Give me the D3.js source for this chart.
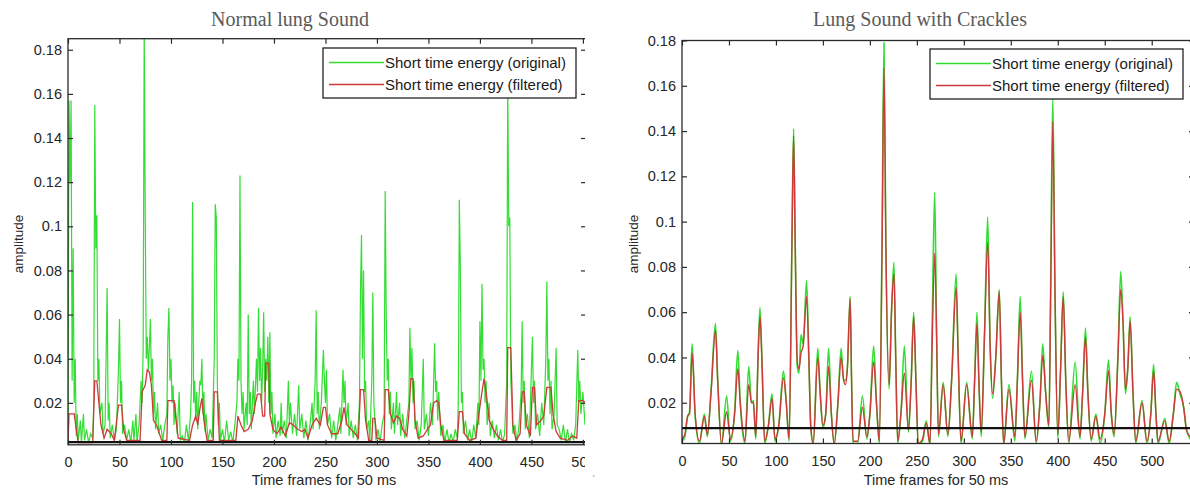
<!DOCTYPE html>
<html><head><meta charset="utf-8">
<script src="https://cdn.jsdelivr.net/npm/d3@7/dist/d3.min.js"></script>
<style>
html,body{margin:0;padding:0;background:#fff;}
svg text{font-family:"Liberation Sans",Arial,Helvetica,sans-serif;}
</style></head>
<body><svg id="c" width="1190" height="488"></svg>
<script>
// ---------------- DATA ----------------
const titles = ["Normal lung Sound", "Lung Sound with Crackles"];
const xLabel = "Time frames for 50 ms";
const yLabel = "amplitude";
const legendLabels = ["Short time energy (original)", "Short time energy (filtered)"];
const xTicks = [0,50,100,150,200,250,300,350,400,450,500,550];
const yTicks = [0.02,0.04,0.06,0.08,0.1,0.12,0.14,0.16,0.18];
const yTickLabels = ["0.02","0.04","0.06","0.08","0.1","0.12","0.14","0.16","0.18"];
const thresholds = [0.0022, 0.0088];

// Normal lung sound: original short time energy [frame, value]
const normalOriginal = [
[0,0.01],[1,0.157],[2,0.12],[3,0.157],[4,0.03],[5,0.09],[6,0.02],[7,0.04],[8,0.005],[9,0.015],[10,0.003],[12,0.012],[13,0.002],[15,0.015],[16,0.003],[18,0.008],[20,0.002],[22,0.006],[24,0.004],[25,0.02],[26,0.155],[27,0.09],[28,0.105],[29,0.03],[30,0.04],[31,0.015],[33,0.02],[34,0.006],[36,0.01],[38,0.072],[39,0.012],[40,0.02],[41,0.004],[43,0.01],[45,0.003],[47,0.008],[49,0.035],[50,0.058],[51,0.02],[52,0.03],[53,0.006],[55,0.01],[57,0.003],[59,0.008],[61,0.002],[63,0.012],[64,0.003],[66,0.015],[67,0.002],[69,0.01],[71,0.03],[72,0.02],[73,0.045],[74,0.19],[75,0.105],[76,0.04],[77,0.05],[78,0.035],[79,0.045],[80,0.058],[81,0.03],[82,0.04],[83,0.015],[84,0.025],[85,0.008],[87,0.02],[88,0.006],[90,0.01],[92,0.003],[94,0.01],[96,0.015],[97,0.05],[98,0.063],[99,0.03],[100,0.04],[101,0.02],[102,0.028],[103,0.01],[104,0.02],[106,0.006],[108,0.025],[109,0.003],[111,0.005],[113,0.002],[115,0.01],[117,0.003],[119,0.015],[120,0.03],[121,0.111],[122,0.02],[123,0.03],[124,0.012],[125,0.025],[126,0.008],[127,0.02],[128,0.03],[129,0.028],[130,0.04],[131,0.015],[132,0.025],[133,0.007],[134,0.015],[136,0.003],[138,0.008],[140,0.004],[142,0.04],[143,0.11],[144,0.104],[145,0.03],[146,0.01],[147,0.02],[148,0.003],[150,0.008],[152,0.002],[154,0.012],[156,0.003],[158,0.007],[160,0.002],[162,0.01],[164,0.02],[165,0.04],[166,0.03],[167,0.123],[168,0.03],[169,0.015],[170,0.025],[171,0.008],[173,0.02],[174,0.01],[175,0.06],[176,0.015],[177,0.025],[178,0.008],[180,0.03],[181,0.015],[183,0.04],[184,0.025],[185,0.063],[186,0.03],[187,0.045],[188,0.02],[189,0.035],[190,0.061],[191,0.025],[192,0.04],[193,0.03],[194,0.05],[195,0.02],[196,0.052],[197,0.015],[198,0.025],[199,0.006],[201,0.015],[202,0.004],[204,0.012],[206,0.005],[207,0.02],[208,0.006],[210,0.012],[212,0.004],[214,0.03],[215,0.01],[216,0.02],[218,0.006],[220,0.015],[222,0.005],[224,0.028],[225,0.008],[227,0.015],[229,0.004],[231,0.012],[233,0.003],[235,0.01],[237,0.02],[238,0.008],[240,0.03],[241,0.062],[242,0.015],[243,0.025],[244,0.008],[246,0.02],[248,0.044],[249,0.03],[250,0.02],[251,0.035],[252,0.01],[254,0.015],[256,0.004],[258,0.012],[260,0.003],[262,0.01],[264,0.018],[265,0.006],[267,0.035],[268,0.02],[269,0.03],[270,0.01],[272,0.02],[273,0.005],[275,0.012],[277,0.004],[279,0.01],[281,0.003],[283,0.02],[284,0.07],[285,0.096],[286,0.04],[287,0.08],[288,0.025],[289,0.03],[290,0.008],[292,0.012],[293,0.002],[295,0.03],[296,0.07],[297,0.02],[298,0.012],[299,0.003],[301,0.008],[303,0.002],[305,0.01],[307,0.015],[308,0.116],[309,0.06],[310,0.03],[311,0.04],[312,0.015],[313,0.025],[314,0.008],[316,0.02],[317,0.006],[319,0.025],[320,0.01],[322,0.02],[323,0.005],[325,0.015],[327,0.004],[329,0.012],[331,0.02],[332,0.054],[333,0.03],[334,0.045],[335,0.02],[336,0.03],[337,0.008],[339,0.012],[341,0.003],[343,0.01],[345,0.04],[346,0.008],[348,0.015],[350,0.005],[352,0.02],[354,0.01],[356,0.047],[357,0.025],[358,0.03],[359,0.012],[360,0.025],[362,0.005],[364,0.01],[366,0.002],[368,0.008],[370,0.002],[372,0.006],[374,0.002],[376,0.008],[378,0.004],[379,0.02],[380,0.112],[381,0.08],[382,0.02],[383,0.025],[384,0.006],[386,0.012],[388,0.003],[390,0.008],[392,0.002],[394,0.01],[396,0.004],[398,0.02],[399,0.01],[400,0.057],[401,0.03],[402,0.074],[403,0.035],[404,0.04],[405,0.02],[406,0.03],[407,0.01],[409,0.02],[410,0.005],[412,0.012],[414,0.004],[416,0.01],[418,0.003],[420,0.008],[422,0.002],[424,0.006],[426,0.03],[427,0.165],[428,0.1],[429,0.104],[430,0.03],[431,0.02],[432,0.006],[434,0.01],[436,0.002],[438,0.01],[440,0.025],[441,0.057],[442,0.02],[443,0.03],[444,0.008],[446,0.015],[448,0.004],[450,0.035],[451,0.05],[452,0.02],[453,0.03],[454,0.008],[456,0.015],[458,0.005],[460,0.02],[462,0.01],[464,0.04],[465,0.075],[466,0.03],[467,0.04],[468,0.015],[469,0.03],[470,0.008],[472,0.015],[474,0.045],[475,0.01],[477,0.008],[479,0.003],[481,0.01],[483,0.002],[485,0.008],[487,0.002],[489,0.006],[491,0.003],[493,0.01],[495,0.044],[496,0.02],[497,0.03],[498,0.015],[500,0.025],[502,0.01],[503,0.02]
];
// Normal lung sound: filtered short time energy
const normalFiltered = [
[0,0.002],[1,0.015],[6,0.015],[8,0.008],[10,0.002],[24,0.002],[26,0.03],[28,0.03],[30,0.02],[32,0.01],[35,0.004],[38,0.008],[42,0.006],[45,0.003],[49,0.019],[52,0.019],[54,0.008],[57,0.003],[70,0.003],[72,0.025],[75,0.028],[77,0.035],[79,0.034],[81,0.028],[83,0.012],[86,0.01],[88,0.007],[91,0.003],[96,0.003],[97,0.021],[103,0.021],[105,0.012],[107,0.004],[118,0.003],[121,0.01],[124,0.014],[126,0.01],[128,0.017],[130,0.022],[132,0.012],[135,0.003],[141,0.003],[142,0.025],[145,0.025],[147,0.003],[163,0.003],[165,0.014],[168,0.01],[171,0.007],[175,0.008],[179,0.012],[182,0.02],[184,0.024],[187,0.024],[189,0.014],[191,0.014],[192,0.038],[195,0.038],[196,0.015],[199,0.008],[203,0.006],[207,0.009],[211,0.005],[215,0.011],[219,0.01],[223,0.008],[227,0.007],[230,0.008],[233,0.004],[237,0.01],[241,0.013],[245,0.01],[248,0.018],[250,0.018],[252,0.01],[256,0.006],[262,0.006],[266,0.012],[268,0.018],[271,0.01],[275,0.008],[279,0.006],[282,0.004],[284,0.026],[287,0.026],[289,0.012],[292,0.003],[295,0.003],[296,0.013],[298,0.013],[300,0.004],[307,0.003],[308,0.026],[311,0.026],[313,0.015],[316,0.011],[319,0.014],[322,0.013],[325,0.008],[329,0.005],[331,0.015],[333,0.031],[335,0.031],[337,0.012],[340,0.004],[345,0.005],[349,0.008],[352,0.01],[355,0.02],[358,0.021],[360,0.02],[362,0.01],[365,0.003],[378,0.003],[380,0.016],[383,0.016],[385,0.006],[390,0.003],[396,0.004],[399,0.015],[402,0.025],[404,0.031],[406,0.025],[409,0.012],[413,0.008],[417,0.005],[422,0.003],[426,0.003],[427,0.045],[430,0.045],[432,0.01],[435,0.003],[439,0.006],[441,0.025],[443,0.025],[445,0.01],[449,0.005],[451,0.027],[453,0.027],[455,0.01],[459,0.012],[462,0.014],[465,0.027],[469,0.027],[471,0.015],[474,0.007],[478,0.004],[485,0.003],[490,0.005],[494,0.004],[496,0.021],[500,0.021],[503,0.02]
];
// Crackles: original short time energy
const cracklesOriginal = [
[0,0.003],[3,0.005],[6,0.014],[8,0.016],[10.7,0.046],[12,0.036],[14,0.014],[18.6,0.002],[23.8,0.015],[27,0.005],[31,0.026],[35.6,0.055],[38,0.03],[42,0.0015],[47.5,0.023],[51.5,0.003],[56,0.016],[59.4,0.043],[62,0.02],[67,0.002],[71,0.036],[74,0.02],[76,0.021],[78.5,0.004],[81,0.042],[83,0.062],[85,0.04],[88,0.002],[92,0.01],[95.8,0.024],[99,0.003],[103,0.01],[108,0.034],[111,0.02],[114,0.003],[117,0.09],[118.8,0.141],[120.5,0.09],[122.7,0.036],[124.5,0.033],[126.7,0.05],[129,0.046],[132.6,0.074],[135,0.04],[137,0.01],[139.7,0.0015],[144.5,0.044],[147,0.025],[150,0.009],[153,0.015],[156,0.044],[159,0.015],[162,0.0015],[166,0.02],[169.4,0.044],[172,0.03],[174,0.03],[176,0.035],[179,0.067],[180.5,0.03],[182,0.002],[187,0.002],[192,0.023],[196.8,0.004],[200,0.015],[204,0.045],[207,0.02],[210,0.002],[213,0.095],[215,0.179],[217,0.09],[220.5,0.026],[223,0.06],[225.6,0.082],[227.5,0.04],[229.6,0.002],[233,0.015],[236.7,0.045],[241,0.007],[244,0.03],[246.6,0.06],[249,0.03],[251.4,0.0015],[256,0.003],[260,0.012],[264,0.0015],[266.5,0.06],[269,0.113],[271,0.05],[273,0.005],[278,0.029],[283,0.005],[287,0.03],[291.8,0.077],[294,0.04],[297,0.002],[303,0.029],[309,0.004],[311.5,0.03],[314,0.06],[316,0.03],[318.5,0.005],[322,0.05],[325.4,0.102],[328,0.045],[330.6,0.022],[334,0.04],[337.7,0.07],[340,0.03],[342.4,0.0015],[348,0.028],[354.3,0.003],[357,0.03],[360,0.067],[362.5,0.03],[365,0.004],[372,0.034],[377,0.002],[381,0.02],[384,0.046],[387,0.025],[390.5,0.009],[392.5,0.075],[394.7,0.155],[397,0.07],[400,0.004],[403,0.035],[405.8,0.069],[408.5,0.03],[411.7,0.002],[418.5,0.038],[423.6,0.004],[426.5,0.025],[429.5,0.053],[432,0.025],[435.5,0.003],[440.6,0.015],[445,0.002],[450,0.015],[454,0.039],[457,0.015],[460,0.005],[464,0.04],[467,0.078],[469.5,0.055],[472,0.024],[474.5,0.035],[477,0.058],[480,0.025],[483,0.002],[489.7,0.021],[494.9,0.002],[499,0.015],[502,0.037],[504.5,0.015],[506.7,0.002],[513.9,0.013],[518.6,0.002],[523,0.015],[526.5,0.029],[530,0.024],[534,0.018],[537,0.008],[541,0.004]
];
// Crackles: filtered short time energy
const cracklesFiltered = [
[0,0.004],[3,0.006],[6,0.014],[8,0.015],[10.7,0.042],[12,0.035],[14,0.015],[18.6,0.003],[23.8,0.014],[27,0.006],[31,0.025],[35.6,0.052],[38,0.03],[42,0.002],[47.5,0.016],[51.5,0.004],[56,0.015],[59.4,0.035],[62,0.02],[67,0.003],[71,0.028],[74,0.02],[76,0.02],[78.5,0.005],[81,0.04],[83,0.058],[85,0.04],[88,0.003],[92,0.01],[95.8,0.022],[99,0.004],[103,0.01],[108,0.031],[111,0.02],[114,0.004],[117,0.09],[118.8,0.138],[120.5,0.09],[122.7,0.038],[124.5,0.035],[126.7,0.042],[129,0.045],[132.6,0.067],[135,0.04],[137,0.01],[139.7,0.002],[144.5,0.04],[147,0.025],[150,0.01],[153,0.015],[156,0.036],[159,0.015],[162,0.002],[166,0.02],[169.4,0.04],[172,0.03],[174,0.028],[176,0.035],[179,0.066],[180.5,0.03],[182,0.003],[187,0.003],[192,0.018],[196.8,0.005],[200,0.015],[204,0.038],[207,0.02],[210,0.003],[213,0.09],[215,0.168],[217,0.09],[220.5,0.028],[223,0.06],[225.6,0.077],[227.5,0.04],[229.6,0.003],[233,0.015],[236.7,0.033],[241,0.008],[244,0.03],[246.6,0.058],[249,0.03],[251.4,0.002],[256,0.004],[260,0.011],[264,0.002],[266.5,0.05],[269,0.086],[271,0.05],[273,0.006],[278,0.028],[283,0.006],[287,0.03],[291.8,0.071],[294,0.04],[297,0.003],[303,0.028],[309,0.005],[311.5,0.03],[314,0.055],[316,0.03],[318.5,0.007],[322,0.05],[325.4,0.091],[328,0.045],[330.6,0.024],[334,0.04],[337.7,0.069],[340,0.03],[342.4,0.002],[348,0.026],[354.3,0.005],[357,0.03],[360,0.06],[362.5,0.03],[365,0.005],[372,0.03],[377,0.003],[381,0.02],[384,0.041],[387,0.025],[390.5,0.01],[392.5,0.07],[394.7,0.144],[397,0.07],[400,0.006],[403,0.035],[405.8,0.067],[408.5,0.03],[411.7,0.003],[418.5,0.028],[423.6,0.005],[426.5,0.025],[429.5,0.049],[432,0.025],[435.5,0.004],[440.6,0.014],[445,0.004],[450,0.015],[454,0.034],[457,0.015],[460,0.006],[464,0.04],[467,0.07],[469.5,0.055],[472,0.026],[474.5,0.035],[477,0.056],[480,0.025],[483,0.003],[489.7,0.02],[494.9,0.003],[499,0.015],[502,0.034],[504.5,0.015],[506.7,0.003],[513.9,0.012],[518.6,0.003],[523,0.015],[526.5,0.026],[530,0.025],[534,0.018],[537,0.008],[541,0.005]
];

// ---------------- LAYOUT ----------------
const GREEN = "#33dd33", RED = "#cc3a3a", AX = "#2a2a2a";
const panels = [
  {title:titles[0], orig:normalOriginal, filt:normalFiltered, thr:thresholds[0],
   x0:68, x1:586, yTop:38.7, yBot:444.8, xDom:[0,503], yDom:[0.001,0.185],
   clipW:585, titleX:290, xLabX:324, yLabX:18, legX:323, legY:48, curve:d3.curveLinear, lw:[1.2,1.3]},
  {title:titles[1], orig:cracklesOriginal, filt:cracklesFiltered, thr:thresholds[1],
   x0:682, x1:1194, yTop:40.5, yBot:443.5, xDom:[0,545], yDom:[0.002,0.18],
   clipW:1190, titleX:920, xLabX:936, yLabX:633, legX:930, legY:49, curve:d3.curveMonotoneX, lw:[1.6,1.4]}
];

const svg = d3.select("#c");
panels.forEach((p,i)=>{
  const g = svg.append("g");
  svg.append("clipPath").attr("id","pc"+i).append("rect")
     .attr("x",0).attr("y",0).attr("width",p.clipW).attr("height",488);
  if(i===0) g.attr("clip-path","url(#pc0)");
  const x = d3.scaleLinear().domain(p.xDom).range([p.x0,p.x1]);
  const y = d3.scaleLinear().domain(p.yDom).range([p.yBot,p.yTop]);

  // title
  svg.append("text").attr("x",p.titleX).attr("y",25.5).attr("text-anchor","middle")
    .style("font-family","'Liberation Serif','Times New Roman',serif").style("font-size","20px")
    .attr("fill","#5a5a5a").text(p.title);

  // plot clip
  svg.append("clipPath").attr("id","pa"+i).append("rect")
     .attr("x",p.x0).attr("y",p.yTop).attr("width",p.x1-p.x0).attr("height",p.yBot-p.yTop);
  const lines = g.append("g").attr("clip-path","url(#pa"+i+")");
  const line = d3.line().x(d=>x(d[0])).y(d=>y(d[1])).curve(p.curve);
  lines.append("path").datum(p.orig).attr("d",line).attr("fill","none")
    .attr("stroke",GREEN).attr("stroke-width",p.lw[0]);
  lines.append("path").datum(p.filt).attr("d",line).attr("fill","none")
    .attr("stroke",RED).attr("stroke-width",p.lw[1]);
  lines.append("line").attr("x1",p.x0).attr("x2",p.x1).attr("y1",y(p.thr)).attr("y2",y(p.thr))
    .attr("stroke","#111").attr("stroke-width",2.2);

  // axes (MATLAB-style, inward ticks)
  const xt = xTicks.filter(t=>t<=p.xDom[1]);
  const fs = "14.5px";
  const ab = g.append("g").attr("transform",`translate(0,${p.yBot})`)
    .call(d3.axisBottom(x).tickValues(xt).tickFormat(d3.format("d")).tickSize(-5).tickPadding(9));
  const at = g.append("g").attr("transform",`translate(0,${p.yTop})`)
    .call(d3.axisTop(x).tickValues(xt).tickFormat("").tickSize(-5));
  const al = g.append("g").attr("transform",`translate(${p.x0},0)`)
    .call(d3.axisLeft(y).tickValues(yTicks).tickFormat((d,k)=>yTickLabels[k]).tickSize(-5).tickPadding(6));
  const ar = g.append("g").attr("transform",`translate(${p.x1},0)`)
    .call(d3.axisRight(y).tickValues(yTicks).tickFormat("").tickSize(-5));
  [ab,at,al,ar].forEach(a=>{
    a.select(".domain").remove();
    a.selectAll(".tick line").attr("stroke",AX).attr("stroke-width",1.2);
    a.selectAll(".tick text").attr("fill","#262626").style("font-size",fs)
      .style("font-family","'Liberation Sans',Arial,sans-serif");
  });
  ab.selectAll(".tick text").attr("dy","0.9em");
  g.append("rect").attr("x",p.x0).attr("y",p.yTop).attr("width",p.x1-p.x0).attr("height",p.yBot-p.yTop)
    .attr("fill","none").attr("stroke",AX).attr("stroke-width",1.3);

  // axis labels
  g.append("text").attr("x",p.xLabX).attr("y",485).attr("text-anchor","middle")
    .attr("fill","#262626").style("font-size","14.5px").text(xLabel);
  g.append("text").attr("transform",`translate(${p.yLabX},244) rotate(-90)`).attr("text-anchor","middle")
    .attr("dy","0.35em").attr("fill","#262626").style("font-size","13.5px").text(yLabel);

  // legend
  const lw = 253, lh = 50;
  const lg = g.append("g").attr("transform",`translate(${p.legX},${p.legY})`);
  lg.append("rect").attr("width",lw).attr("height",lh).attr("fill","#fff")
    .attr("stroke","#222").attr("stroke-width",1.3);
  [[GREEN,14.5],[RED,36.5]].forEach((c,k)=>{
    lg.append("line").attr("x1",6).attr("x2",61).attr("y1",c[1]).attr("y2",c[1])
      .attr("stroke",c[0]).attr("stroke-width",1.3);
    lg.append("text").attr("x",62).attr("y",c[1]).attr("dy","0.35em").attr("fill","#1a1a1a")
      .style("font-size","15px").text(legendLabels[k]);
  });
});
svg.append("text").attr("x",592).attr("y",484).attr("fill","#777").style("font-size","10px").text("`");
</script></body></html>
